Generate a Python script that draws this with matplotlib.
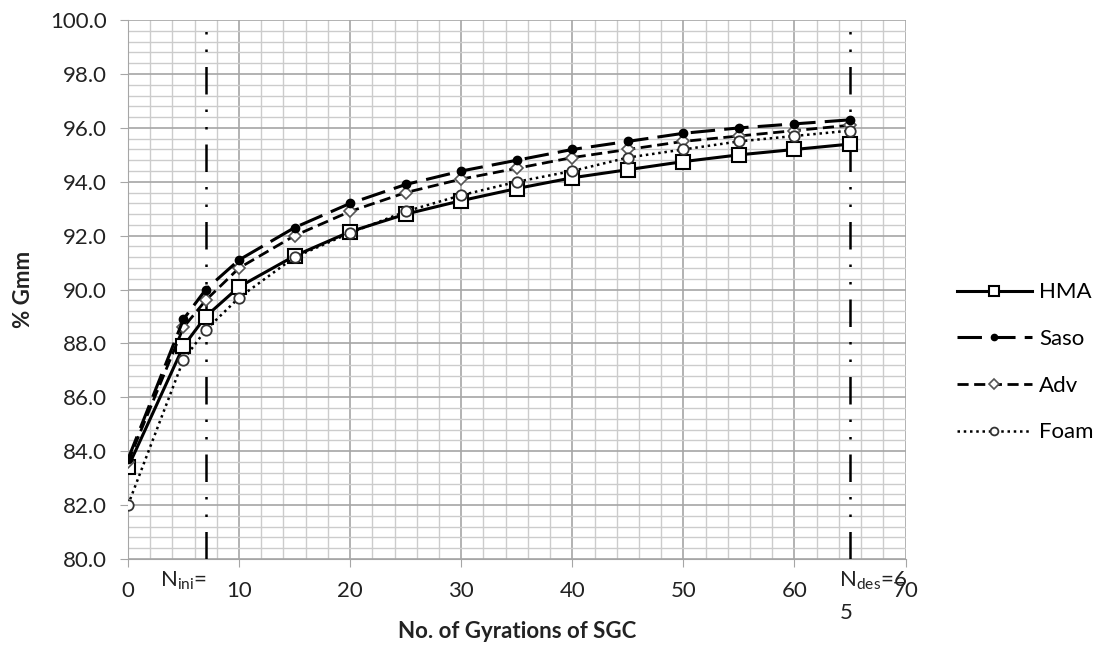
import matplotlib
matplotlib.use("Agg")
import matplotlib.pyplot as plt
from matplotlib.ticker import MultipleLocator

plt.rcParams['font.family'] = ['Lato', 'DejaVu Sans']
plt.rcParams['mathtext.fontset'] = 'custom'
plt.rcParams['mathtext.rm'] = 'Lato'

gyrations = [0, 5, 7, 10, 15, 20, 25, 30, 35, 40, 45, 50, 55, 60, 65]
hma = [83.4, 87.9, 89.0, 90.1, 91.25, 92.15, 92.8, 93.3, 93.75, 94.15, 94.45, 94.75, 95.0, 95.2, 95.4]
saso = [83.7, 88.9, 90.0, 91.1, 92.3, 93.2, 93.9, 94.4, 94.8, 95.2, 95.5, 95.8, 96.0, 96.15, 96.3]
adv = [83.6, 88.6, 89.6, 90.8, 92.0, 92.9, 93.6, 94.1, 94.5, 94.9, 95.2, 95.5, 95.7, 95.9, 96.1]
foam = [82.0, 87.4, 88.5, 89.7, 91.2, 92.1, 92.9, 93.5, 94.0, 94.4, 94.9, 95.2, 95.5, 95.7, 95.9]
n_ini = 7
n_des = 65

txt = '#222222'
fs = 16

fig = plt.figure(figsize=(11.03, 6.5), dpi=100)
ax = fig.add_axes([0.116, 0.14, 0.705, 0.829])

ax.plot(gyrations, hma, color='black', lw=2.2, ls='-', marker='s', ms=10,
        mfc='white', mec='black', mew=1.5, label='HMA', zorder=5)
ax.plot(gyrations, saso, color='black', lw=2.2, ls=(0, (8, 3)), marker='o', ms=6,
        mfc='black', mec='black', label='Saso', zorder=6)
ax.plot(gyrations, adv, color='black', lw=2.0, ls=(0, (4, 2)), marker='D', ms=6.5,
        mfc='white', mec='#555555', mew=1.2, label='Adv', zorder=5)
ax.plot(gyrations, foam, color='black', lw=1.8, ls=(0, (1, 1.5)), marker='o', ms=7.5,
        mfc='white', mec='#333333', mew=1.3, label='Foam', zorder=5)

# N_ini and N_des markers
for xv in (n_ini, n_des):
    ax.axvline(xv, color='black', lw=1.8, ls=(0, (11, 6, 1, 6, 1, 6)), zorder=4)

ax.set_xlim(0, 70)
ax.set_ylim(80, 100)
ax.xaxis.set_major_locator(MultipleLocator(10))
ax.xaxis.set_minor_locator(MultipleLocator(2))
ax.yaxis.set_major_locator(MultipleLocator(2))
ax.yaxis.set_minor_locator(MultipleLocator(0.4))
ax.set_yticklabels([f'{v:.1f}' for v in ax.get_yticks()])

ax.grid(which='major', color='#a6a6a6', lw=1.2)
ax.grid(which='minor', color='#cccccc', lw=1.0)
ax.set_axisbelow(True)
for side in ('top', 'right'):
    ax.spines[side].set_visible(False)
for side in ('left', 'bottom'):
    ax.spines[side].set_color('#a6a6a6')
ax.tick_params(which='major', length=6, color='#a6a6a6', labelsize=fs, labelcolor=txt)
ax.tick_params(axis='x', pad=10)
ax.tick_params(axis='y', pad=9)
ax.tick_params(which='minor', length=0)

ax.text(2.9, 79.6, r'N$_{\mathregular{ini}}$=', fontsize=fs, ha='left', va='top', color=txt)
ax.text(64.05, 79.6, r'N$_{\mathregular{des}}$=6', fontsize=fs, ha='left', va='top', color=txt)
ax.text(64.05, 78.35, '5', fontsize=fs, ha='left', va='top', color=txt)

ax.set_xlabel('No. of Gyrations of SGC', fontsize=fs, fontweight='bold', labelpad=14, color=txt)
ax.set_ylabel('% Gmm', fontsize=fs, fontweight='bold', labelpad=12, color=txt)

ax.legend(loc='center left', bbox_to_anchor=(1.04, 0.365), frameon=False, fontsize=fs,
          handlelength=3.4, labelspacing=1.2, handletextpad=0.3, markerscale=0.75)

fig.savefig('out.png', dpi=100)
